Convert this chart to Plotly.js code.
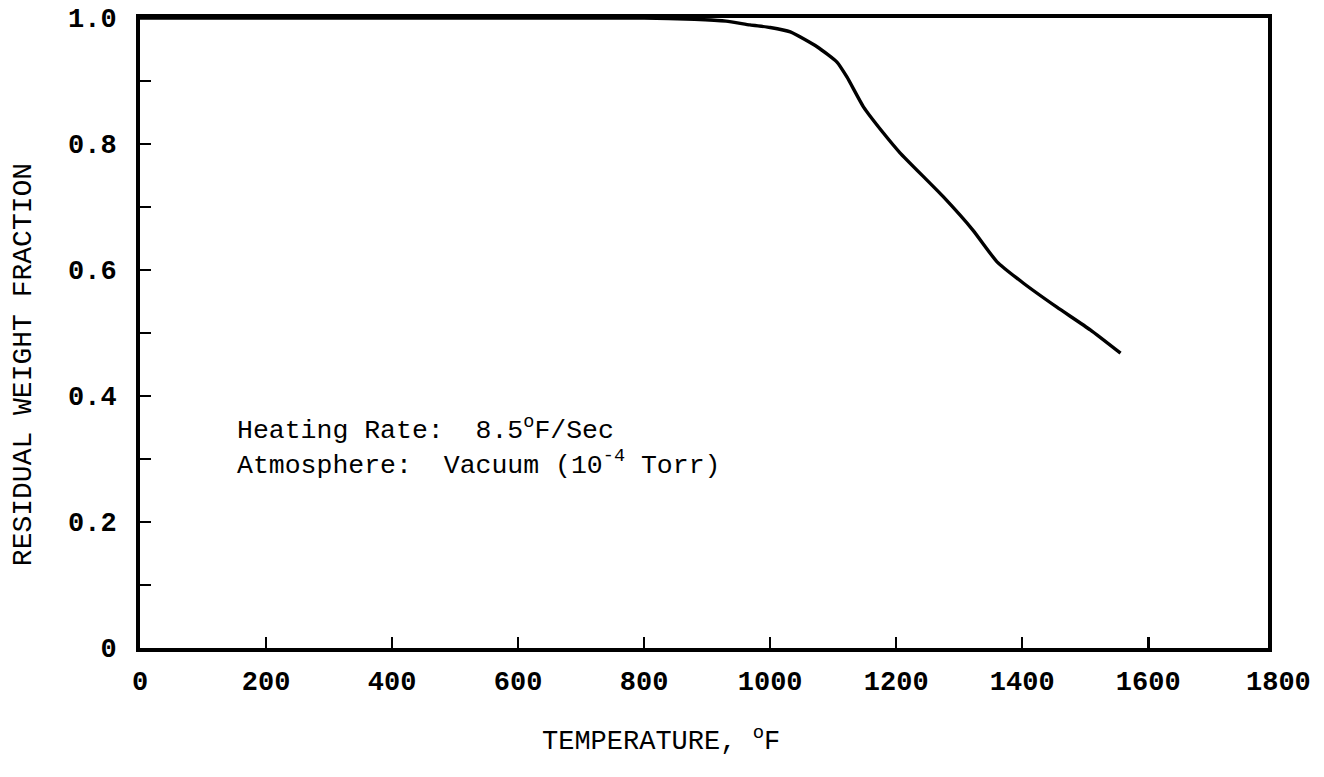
<!DOCTYPE html>
<html>
<head>
<meta charset="utf-8">
<script src="https://cdn.plot.ly/plotly-3.0.1.min.js"></script>
<style>html,body{margin:0;padding:0;background:#fff;}#chart{width:1324px;height:777px;}</style>
</head>
<body>
<div id="chart"></div>
<script>
// Data
const temperatureF = [0, 200, 400, 600, 800, 880, 930, 968, 1000, 1032, 1075, 1106, 1122, 1148, 1180, 1206, 1275, 1322, 1360, 1402, 1455, 1508, 1556];
const residualFraction = [1.0, 1.0, 1.0, 1.0, 1.0, 0.998, 0.995, 0.989, 0.985, 0.978, 0.954, 0.930, 0.906, 0.859, 0.817, 0.786, 0.716, 0.663, 0.613, 0.579, 0.541, 0.505, 0.468];

const xTickVals = [0, 200, 400, 600, 800, 1000, 1200, 1400, 1600];
const xTickText = ['0', '200', '400', '600', '800', '1000', '1200', '1400', '1600'];
const xLastTickText = '1800';
const yTickVals = [0, 0.1, 0.2, 0.3, 0.4, 0.5, 0.6, 0.7, 0.8, 0.9, 1.0];
const yTickText = ['0', '', '0.2', '', '0.4', '', '0.6', '', '0.8', '', '1.0'];

const FONT = '"Liberation Mono", "DejaVu Sans Mono", monospace';
const NB = '\u00A0';

const trace = {
  x: temperatureF,
  y: residualFraction,
  mode: 'lines',
  line: {color: '#000', width: 3.4, shape: 'spline', smoothing: 0.5},
  hoverinfo: 'skip'
};

const layout = {
  width: 1324, height: 777,
  margin: {l: 140, r: 56, t: 18, b: 129, pad: 0},
  paper_bgcolor: '#fff', plot_bgcolor: '#fff',
  showlegend: false,
  font: {family: FONT, color: '#000', size: 27},
  xaxis: {
    range: [0, 1790], fixedrange: true,
    showgrid: false, zeroline: false,
    showline: true, mirror: true, linecolor: '#000', linewidth: 4,
    ticks: 'inside', ticklen: 11, tickwidth: 2.5, tickcolor: '#000',
    tickvals: xTickVals, ticktext: xTickText,
    tickfont: {family: FONT, size: 27, color: '#000', weight: 'bold'},
    ticklabelstandoff: 6
  },
  yaxis: {
    range: [0, 1.0], fixedrange: true,
    showgrid: false, zeroline: false,
    showline: true, mirror: true, linecolor: '#000', linewidth: 4,
    ticks: 'inside', ticklen: 11, tickwidth: 2.5, tickcolor: '#000',
    tickvals: yTickVals, ticktext: yTickText,
    tickfont: {family: FONT, size: 27, color: '#000', weight: 'bold'},
    ticklabelstandoff: 14
  },
  annotations: [
    {
      xref: 'paper', yref: 'paper', x: 1.0089, y: -0.0555,
      text: xLastTickText, showarrow: false,
      xanchor: 'center', yanchor: 'middle',
      font: {family: FONT, size: 27, color: '#000', weight: 'bold'}
    },
    {
      xref: 'paper', yref: 'paper', x: -0.1037, y: 0.449,
      text: 'RESIDUAL WEIGHT FRACTION', textangle: -90, showarrow: false,
      xanchor: 'center', yanchor: 'middle',
      font: {family: FONT, size: 28, color: '#000'}
    },
    {
      xref: 'paper', yref: 'paper', x: 0.462, y: -0.146,
      text: 'TEMPERATURE,' + NB + '<sup>o</sup>F', showarrow: false,
      xanchor: 'center', yanchor: 'middle',
      font: {family: FONT, size: 27, color: '#000'}
    },
    {
      xref: 'paper', yref: 'paper', x: 0.084, y: 0.32,
      text: 'Heating Rate:' + NB + NB + '8.5<sup>o</sup>F/Sec<br>Atmosphere:' + NB + NB + 'Vacuum (10<sup>-4</sup> Torr)',
      showarrow: false, align: 'left',
      xanchor: 'left', yanchor: 'middle',
      font: {family: FONT, size: 26.5, color: '#000'}
    }
  ]
};

Plotly.newPlot('chart', [trace], layout, {displayModeBar: false, staticPlot: true});
</script>
</body>
</html>
